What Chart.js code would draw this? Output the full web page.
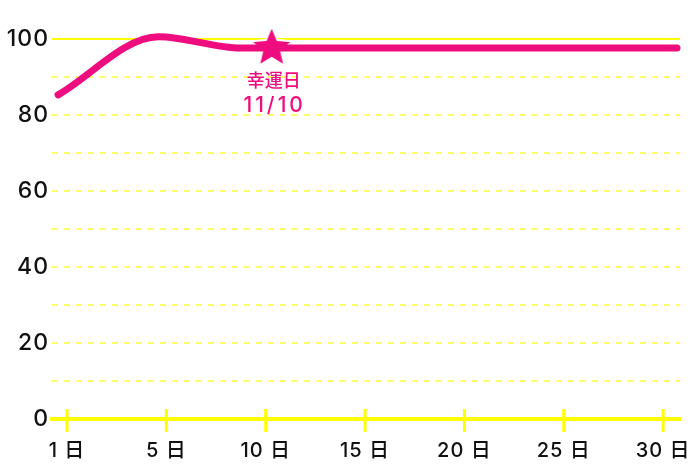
<!DOCTYPE html>
<html>
<head>
<meta charset="utf-8">
<script src="https://cdn.jsdelivr.net/npm/chart.js@4"></script>
<style>
    html, body { margin: 0; padding: 0; background: #fff; }
    #wrap { width: 700px; height: 467px; }
</style>
</head>
<body>
<div id="wrap"><canvas id="canvasLuck"></canvas></div>
<script>
// tick labels (evenly spaced on the axis)
const dayLabels = ["1 日", "5 日", "10 日", "15 日", "20 日", "25 日", "30 日"]
// line position in tick units, value
const lineX = [-0.09, 0.92, 1.75, 2.06, 6.14]
const lineY = [85.3, 100.6, 97.6, 97.6, 97.6]
// lucky day marker
const luckyX = [2.06]
const luckyY = [97.9]
const luckyText = ["幸運日", "11/10"]

const pink = "#ee0c7f"
const yellow = "#ffff00"
const fontFamily = 'Inter, "Noto Sans CJK JP", sans-serif'

let canvasLuck = document.getElementById("canvasLuck")
Chart.defaults.font.family = fontFamily
Chart.defaults.font.weight = 500

//#region Star image
MakeStar = (size, color) => {
    let c = document.createElement("canvas")
    c.width = size
    c.height = size
    let g = c.getContext("2d")
    let cx = size / 2, cy = size / 2 + 1
    let outer = size / 2 - 2, inner = outer * 0.45
    g.beginPath()
    for (let i = 0; i < 10; i++) {
        let r = i % 2 === 0 ? outer : inner
        let a = -Math.PI / 2 + i * Math.PI / 5
        g.lineTo(cx + r * Math.cos(a), cy + r * Math.sin(a))
    }
    g.closePath()
    g.fillStyle = color
    g.fill()
    g.lineWidth = 2
    g.strokeStyle = "#fff"
    g.stroke()
    return c
}
//#endregion

//#region Plugins
const axisDecor = {
    id: "axisDecor",
    beforeUpdate: chart => { chart.ctx.letterSpacing = "1px" },
    beforeDraw: chart => { chart.ctx.letterSpacing = "1px" },
    beforeDatasetsDraw: chart => {
        let { ctx, chartArea, scales } = chart
        let y100 = scales.y.getPixelForValue(100)
        let y0 = scales.y.getPixelForValue(0)
        ctx.save()
        ctx.strokeStyle = yellow
        ctx.lineWidth = 2
        ctx.beginPath()
        ctx.moveTo(chartArea.left, y100)
        ctx.lineTo(chartArea.right, y100)
        ctx.stroke()
        ctx.lineWidth = 3
        scales.x.ticks.forEach(t => {
            let px = scales.x.getPixelForValue(t.value)
            ctx.beginPath()
            ctx.moveTo(px, y0 - 10)
            ctx.lineTo(px, y0 + 13)
            ctx.stroke()
        })
        ctx.restore()
    },
    afterDatasetsDraw: chart => {
        let { ctx } = chart
        let pt = chart.getDatasetMeta(1).data[0]
        ctx.save()
        ctx.fillStyle = pink
        ctx.textAlign = "center"
        ctx.textBaseline = "middle"
        ctx.letterSpacing = "0px"
        ctx.font = "500 18px " + fontFamily
        ctx.fillText(luckyText[0], pt.x + 2, pt.y + 35)
        ctx.letterSpacing = "3px"
        ctx.font = "500 21px " + fontFamily
        ctx.fillText(luckyText[1], pt.x + 3, pt.y + 59)
        ctx.restore()
    }
}
//#endregion

//#region Chart
new Chart(canvasLuck, {
    type: "line",
    data: {
        datasets: [
            {
                data: lineX.map((x, i) => ({ x, y: lineY[i] })),
                borderColor: pink,
                borderWidth: 7,
                borderCapStyle: "round",
                pointRadius: 0,
                cubicInterpolationMode: "monotone",
                clip: false
            },
            {
                data: luckyX.map((x, i) => ({ x, y: luckyY[i] })),
                showLine: false,
                pointStyle: MakeStar(48, pink),
                clip: false
            }
        ]
    },
    options: {
        responsive: true,
        maintainAspectRatio: false,
        animation: false,
        layout: { padding: { top: 39, right: 20, left: 0, bottom: 0 } },
        plugins: { legend: { display: false }, tooltip: { enabled: false } },
        scales: {
            x: {
                type: "linear",
                min: -0.151,
                max: 6.17,
                afterBuildTicks: scale => {
                    scale.ticks = dayLabels.map((_, i) => ({ value: i }))
                },
                afterFit: scale => {
                    scale.height = 48
                    scale.paddingLeft = 0
                    scale.paddingRight = 0
                },
                grid: { display: false, drawTicks: false },
                border: { display: true, color: yellow, width: 4 },
                ticks: {
                    padding: 20,
                    color: "#111",
                    font: { size: 20 },
                    maxRotation: 0,
                    autoSkip: false,
                    callback: (v, i) => dayLabels[i]
                }
            },
            y: {
                min: 0,
                max: 100,
                afterFit: scale => { scale.width = 52 },
                grid: {
                    drawTicks: false,
                    lineWidth: 2,
                    color: ctx => (ctx.tick.value === 0 || ctx.tick.value === 100) ? "transparent" : "#ffff6e"
                },
                border: { display: false, dash: [6, 6] },
                ticks: {
                    stepSize: 10,
                    padding: 3,
                    color: "#111",
                    font: { size: 23 },
                    callback: v => v % 20 === 0 ? v : ""
                }
            }
        }
    },
    plugins: [axisDecor]
})
//#endregion
</script>
</body>
</html>
